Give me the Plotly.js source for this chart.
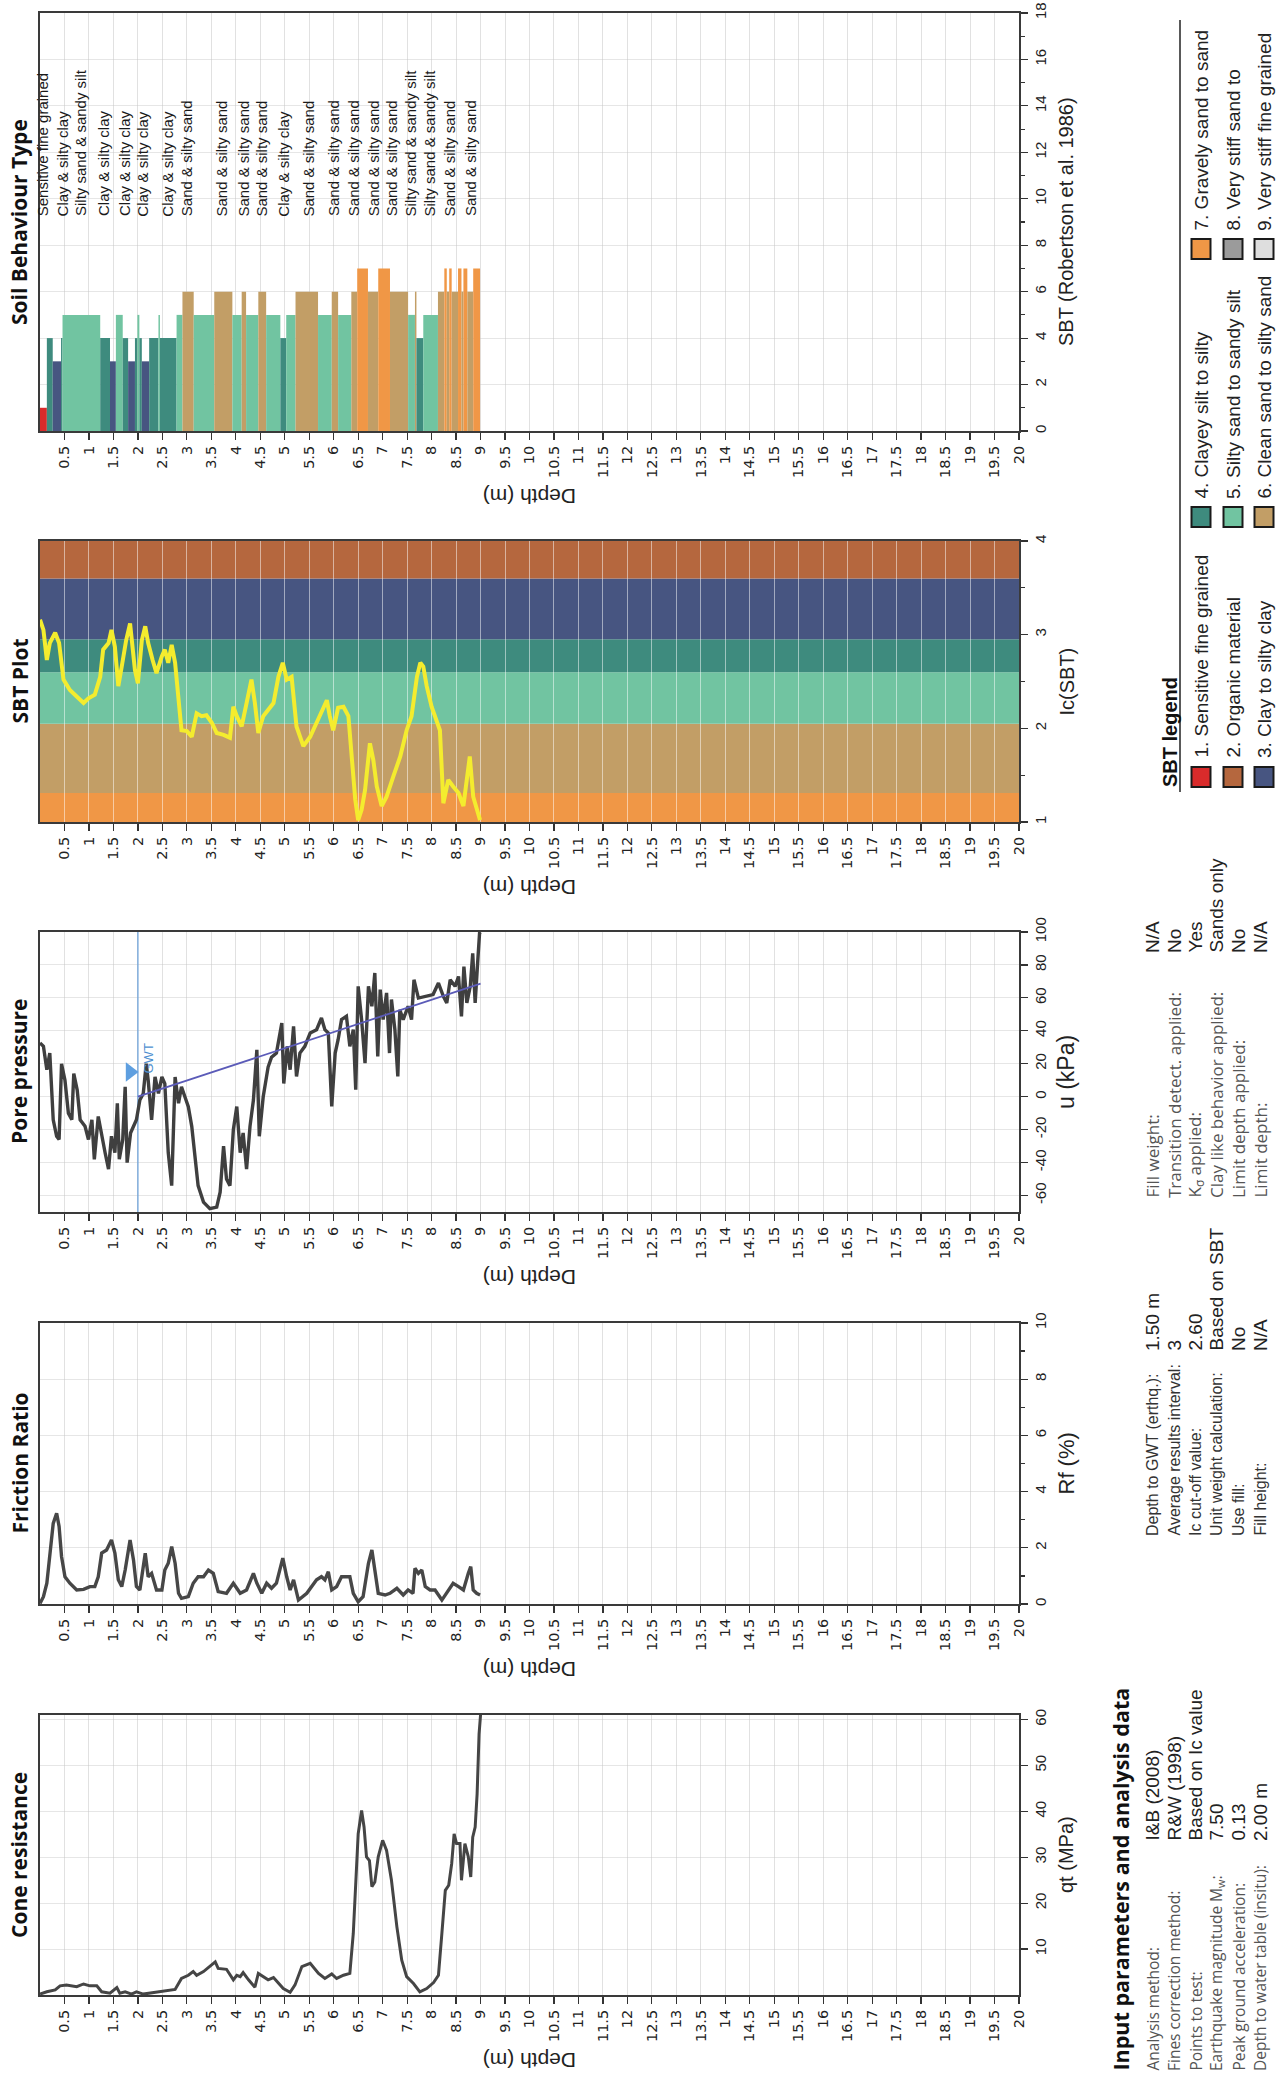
<!DOCTYPE html>
<html><head><meta charset="utf-8">
<script src="https://cdn.plot.ly/plotly-3.0.1.min.js"></script>
<style>html,body{margin:0;padding:0;background:#fff}#chart{width:1277px;height:2080px}</style>
</head><body><div id="chart"></div>
<script>
// ---------------- DATA ----------------
const depthTicks = [0.5,1,1.5,2,2.5,3,3.5,4,4.5,5,5.5,6,6.5,7,7.5,8,8.5,9,9.5,10,10.5,11,11.5,12,12.5,13,13.5,14,14.5,15,15.5,16,16.5,17,17.5,18,18.5,19,19.5,20];

// SBT zone bars (start depth of each layer, zone number), last layer ends at sbtEnd
const sbtStart = [0,0.14,0.26,0.43,0.46,1.23,1.43,1.55,1.69,1.80,1.94,1.99,2.03,2.08,2.23,2.42,2.45,2.79,2.91,3.14,3.56,3.93,4.12,4.21,4.46,4.62,4.91,5.03,5.22,5.68,5.96,6.09,6.36,6.48,6.70,6.91,7.15,7.52,7.66,7.69,7.83,8.13,8.26,8.31,8.36,8.41,8.54,8.61,8.65,8.73,8.85];
const sbtZone  = [1,4,3,4,5,4,3,5,4,3,4,5,4,3,4,5,4,5,6,5,6,5,6,5,6,5,4,5,6,5,6,5,6,7,6,7,6,5,6,4,5,6,7,6,7,6,7,6,7,6,7];
const sbtEnd = 8.99;

// SBT text labels
const sbtLabelDepth = [0.05,0.45,0.84,1.3,1.73,2.09,2.6,3.0,3.7,4.15,4.52,4.97,5.48,6.0,6.41,6.8,7.17,7.57,7.96,8.36,8.8];
const sbtLabelText = ["Sensitive fine grained","Clay & silty clay","Silty sand & sandy silt","Clay & silty clay","Clay & silty clay","Clay & silty clay","Clay & silty clay","Sand & silty sand","Sand & silty sand","Sand & silty sand","Sand & silty sand","Clay & silty clay","Sand & silty sand","Sand & silty sand","Sand & silty sand","Sand & silty sand","Sand & silty sand","Silty sand & sandy silt","Silty sand & sandy silt","Sand & silty sand","Sand & silty sand"];

// Ic zone boundaries and zones (bottom to top)
const icBounds = [1,1.31,2.05,2.6,2.95,3.6,4];
const icZones  = [7,6,5,4,3,2];

// Ic (SBT)
const icDepth = [0,0.07,0.14,0.2,0.31,0.39,0.48,0.61,0.75,0.89,0.99,1.12,1.23,1.29,1.40,1.46,1.53,1.60,1.67,1.76,1.84,1.89,1.94,2.00,2.08,2.15,2.21,2.30,2.38,2.49,2.55,2.62,2.69,2.76,2.83,2.89,3.00,3.10,3.20,3.30,3.40,3.51,3.61,3.75,3.88,3.95,4.02,4.12,4.22,4.32,4.39,4.46,4.56,4.66,4.77,4.87,4.96,5.04,5.14,5.24,5.38,5.52,5.65,5.75,5.86,5.92,5.99,6.09,6.20,6.30,6.37,6.44,6.50,6.57,6.64,6.74,6.81,6.88,6.98,7.08,7.22,7.36,7.49,7.59,7.70,7.77,7.83,7.90,8.00,8.10,8.17,8.24,8.34,8.44,8.55,8.65,8.72,8.78,8.85,8.92,8.99];
const icValue = [3.16,3.05,2.73,2.91,3.02,2.91,2.52,2.41,2.34,2.27,2.32,2.36,2.55,2.84,2.91,3.05,2.87,2.45,2.66,2.94,3.12,2.91,2.62,2.48,2.94,3.09,2.91,2.73,2.59,2.77,2.84,2.70,2.89,2.70,2.27,1.98,1.97,1.91,2.16,2.13,2.14,2.06,1.95,1.93,1.90,2.23,2.13,2.02,2.27,2.52,2.27,1.95,2.13,2.20,2.27,2.55,2.70,2.52,2.55,2.02,1.81,1.91,2.06,2.18,2.30,2.13,1.98,2.22,2.23,2.13,1.63,1.24,1.02,1.13,1.34,1.84,1.66,1.38,1.17,1.27,1.49,1.70,1.98,2.13,2.55,2.70,2.66,2.45,2.23,2.09,1.98,1.20,1.45,1.38,1.31,1.17,1.42,1.70,1.27,1.13,1.02];

// Pore pressure u (kPa)
const poreDepth = [0,0.07,0.14,0.2,0.27,0.34,0.39,0.44,0.51,0.58,0.65,0.69,0.76,0.82,0.92,0.99,1.06,1.11,1.19,1.26,1.33,1.40,1.46,1.53,1.58,1.62,1.69,1.74,1.78,1.85,1.91,1.97,2.04,2.11,2.17,2.21,2.28,2.35,2.42,2.49,2.55,2.62,2.69,2.76,2.83,2.89,2.96,3.03,3.10,3.17,3.23,3.34,3.47,3.61,3.68,3.75,3.81,3.88,3.95,4.02,4.09,4.15,4.22,4.29,4.36,4.43,4.48,4.56,4.66,4.73,4.83,4.94,4.98,5.05,5.11,5.18,5.24,5.31,5.41,5.52,5.65,5.75,5.82,5.89,5.96,6.03,6.09,6.16,6.26,6.33,6.40,6.45,6.50,6.57,6.64,6.71,6.78,6.84,6.90,6.95,7.01,7.08,7.14,7.18,7.25,7.31,7.35,7.42,7.52,7.59,7.64,7.73,7.90,8.03,8.14,8.24,8.31,8.38,8.48,8.55,8.61,8.66,8.72,8.79,8.84,8.89,8.94,8.98,9.00];
const poreValue = [32.6,30.6,16.4,26.5,-14,-24,-26,20,10,-10,-14,14,4,-14,-18,-26,-14,-38,-12,-24,-34,-44,-24,-34,-4,-38,-26,6,-40,-22,-18,-14,-2,2,20,10,-14,12,2,12,8,-34,-54,12,-4,6,0,-6,-18,-38,-54,-64,-68,-67,-58,-30,-50,-54,-20,-6,-34,-22,-44,-18,-2,28.5,-24,0,18,24,26.5,44.7,8,30.6,16.4,42.7,12.3,26.5,30.6,38.7,40.7,47.8,40.7,38.7,-5.9,26.5,34.6,46.8,48.8,30.6,40.7,4.3,67,46.8,20.4,67,54.9,75.1,24.5,65,46.8,63,26.5,59,40.7,12.3,52.8,46.8,54.9,46.8,71,59.9,61,62,69,61,56.9,71,67,73,48.8,79,57,67,87,57,81,99.4,100];
// hydrostatic u0 line and water table
const u0Depth = [2.0, 9.0];
const u0Value = [0, 68.7];
const gwtDepth = 2.0;
const gwtMarker = {depth: 1.84, u: 15};

// Friction ratio Rf (%)
const frDepth = [0,0.07,0.14,0.2,0.27,0.34,0.39,0.44,0.51,0.61,0.75,0.89,1.02,1.12,1.19,1.26,1.36,1.46,1.53,1.60,1.67,1.74,1.84,1.91,1.97,2.04,2.10,2.15,2.21,2.28,2.38,2.49,2.55,2.62,2.69,2.76,2.83,2.89,3.03,3.13,3.23,3.34,3.44,3.54,3.64,3.81,3.95,4.09,4.22,4.36,4.43,4.53,4.63,4.73,4.83,4.96,5.04,5.11,5.18,5.28,5.45,5.65,5.75,5.82,5.89,5.96,6.06,6.16,6.33,6.40,6.50,6.60,6.71,6.78,6.84,6.91,7.05,7.15,7.29,7.42,7.52,7.62,7.66,7.73,7.80,7.87,7.97,8.07,8.21,8.34,8.44,8.55,8.65,8.75,8.80,8.85,8.92,8.99];
const frValue = [0.02,0.26,0.74,1.69,2.87,3.23,2.76,1.69,0.97,0.74,0.5,0.52,0.62,0.62,0.97,1.81,1.92,2.28,1.81,0.86,0.62,1.21,2.28,1.57,0.62,0.5,1.21,1.81,0.97,1.09,0.5,0.5,1.21,1.45,2.04,1.45,0.38,0.2,0.26,0.74,0.97,0.97,1.21,1.09,0.44,0.38,0.74,0.38,0.5,1.09,0.74,0.38,0.74,0.56,0.74,1.63,0.97,0.5,0.86,0.14,0.38,0.86,0.97,0.86,1.15,0.5,0.62,0.97,0.97,0.38,0.08,0.26,1.45,1.92,1.21,0.38,0.32,0.38,0.56,0.32,0.5,0.38,1.27,1.09,1.21,0.62,0.5,0.5,0.14,0.5,0.74,0.62,0.5,1.09,1.33,0.5,0.38,0.32];

// Cone resistance qt (MPa)
const qtDepth = [0,0.14,0.31,0.41,0.54,0.75,0.89,1.02,1.16,1.26,1.43,1.57,1.63,1.74,1.87,1.97,2.11,2.32,2.52,2.66,2.76,2.89,3.03,3.13,3.20,3.34,3.47,3.58,3.64,3.81,3.95,4.02,4.09,4.15,4.26,4.39,4.46,4.56,4.66,4.77,4.87,4.97,5.11,5.21,5.35,5.52,5.69,5.82,5.96,6.06,6.20,6.33,6.40,6.47,6.50,6.57,6.62,6.67,6.73,6.78,6.84,6.91,7.00,7.08,7.18,7.29,7.39,7.49,7.63,7.76,7.90,8.04,8.14,8.21,8.28,8.35,8.41,8.46,8.51,8.58,8.61,8.68,8.75,8.80,8.84,8.89,8.93,8.97,9.00];
const qtValue = [0.2,0.7,1.1,2.0,2.2,1.8,2.4,2.0,2.0,0.7,0.4,1.6,0.4,0.7,0.2,0.7,0.2,0.5,0.7,0.9,1.2,3.6,4.3,5.1,4.3,5.1,6.2,7.2,5.8,5.6,3.3,4.3,4.0,4.9,3.3,1.7,4.7,4.0,3.3,3.8,2.5,1.4,0.6,2.2,6.2,6.9,4.7,3.6,4.6,3.6,4.3,4.7,13.4,29.3,35.1,40.2,36.6,30.1,29.3,23.6,24.6,30.1,33.7,31.5,25.0,14.9,7.6,4.0,2.5,0.7,1.4,2.7,4.3,13.4,22.8,23.9,28.6,35.1,33.0,33.0,25.0,33.0,30.1,25.7,34.4,36.6,43.8,56.9,61];

// Legend
const legendNames = ["1. Sensitive fine grained","2. Organic material","3. Clay to silty clay","4. Clayey silt to silty","5. Silty sand to sandy silt","6. Clean sand to silty sand","7. Gravely sand to sand","8. Very stiff sand to","9. Very stiff fine grained"];

// Input parameters
const paramLabels1 = ["Analysis method:","Fines correction method:","Points to test:","Earthquake magnitude M<sub>w</sub>:","Peak ground acceleration:","Depth to water table (insitu):"];
const paramValues1 = ["I&B (2008)","R&W (1998)","Based on Ic value","7.50","0.13","2.00 m"];
const paramLabels2 = ["Depth to GWT (erthq.):","Average results interval:","Ic cut-off value:","Unit weight calculation:","Use fill:","Fill height:"];
const paramValues2 = ["1.50 m","3","2.60","Based on SBT","No","N/A"];
const paramLabels3 = ["Fill weight:","Transition detect. applied:","K<sub>σ</sub> applied:","Clay like behavior applied:","Limit depth applied:","Limit depth:"];
const paramValues3 = ["N/A","No","Yes","Sands only","No","N/A"];

// ---------------- STYLE ----------------
const zoneColor = {1:'#D92B2B',2:'#B5673E',3:'#475581',4:'#3E8B7E',5:'#71C4A1',6:'#C29E66',7:'#F09746',8:'#9B9B9B',9:'#DEDEDE'};
const SANS = "'Liberation Sans',Arial,sans-serif";
const OPEN = "'Open Sans',Arial,sans-serif";
const W = 1277, H = 2080;
const PX = x => x / W, PY = y => 1 - y / H;
const panels = [[13,431],[541,822],[932,1212],[1323,1604],[1715,1995]];
const plotL = 40, plotR = 1019;
const panelTitles = ["Soil Behaviour Type","SBT Plot","Pore pressure","Friction Ratio","Cone resistance"];
const axisTitles = ["SBT (Robertson et al. 1986)","Ic(SBT)","u (kPa)","Rf (%)","qt (MPa)"];
const axisTitleSize = [20, 20, 23, 22, 20];

const layout = {
  width: W, height: H, margin: {l:0,r:0,t:0,b:0},
  paper_bgcolor: '#ffffff', plot_bgcolor: 'rgba(0,0,0,0)',
  showlegend: false, font: {family: SANS, color: '#222'},
  shapes: [], annotations: []
};

const yConf = [
  {range:[0,18], tickmode:'linear', tick0:0, dtick:2, minor:{dtick:1, ticks:'outside', ticklen:4, tickcolor:'#333', showgrid:false}},
  {range:[1,4], tickmode:'linear', tick0:1, dtick:1, showgrid:false, minor:{dtick:0.5, ticks:'outside', ticklen:4, tickcolor:'#333', showgrid:false}},
  {range:[-70,100], tickmode:'array', tickvals:[-60,-40,-20,0,20,40,60,80,100], ticktext:['-60','-40','-20','0','20','40','60','80','100']},
  {range:[0,10], tickmode:'linear', tick0:0, dtick:2, minor:{dtick:1, ticks:'outside', ticklen:4, tickcolor:'#333', showgrid:false}},
  {range:[0,61], tickmode:'array', tickvals:[10,20,30,40,50,60], ticktext:['10','20','30','40','50','60']}
];

panels.forEach((p, i) => {
  const n = i + 1;
  const xk = n === 1 ? 'xaxis' : 'xaxis' + n;
  const yk = n === 1 ? 'yaxis' : 'yaxis' + n;
  const dom = [PY(p[1]), PY(p[0])];
  layout[xk] = {
    domain: [PX(plotL), PX(plotR)], anchor: 'y' + (n===1?'':n), range: [0,20],
    tickmode: 'array', tickvals: depthTicks, ticktext: depthTicks.map(String),
    tickangle: -90, ticks: 'outside', ticklen: 7, tickcolor: '#333', tickwidth: 1.2,
    showline: true, linecolor: '#3a3a3a', linewidth: 2, mirror: true,
    showgrid: true, gridcolor: n === 2 ? 'rgba(255,255,255,0.5)' : 'rgba(200,200,200,0.55)', gridwidth: 1, zeroline: false,
    tickfont: {family: "'DejaVu Sans',sans-serif", size: 14.5, color: '#222'}, fixedrange: true
  };
  layout[yk] = Object.assign({
    domain: dom, anchor: 'x' + (n===1?'':n), side: 'right', tickangle: -90,
    ticks: 'outside', ticklen: 7, tickcolor: '#333', tickwidth: 1.2,
    showline: true, linecolor: '#3a3a3a', linewidth: 2, mirror: true,
    showgrid: true, gridcolor: 'rgba(200,200,200,0.45)', gridwidth: 1, zeroline: false,
    tickfont: {family: SANS, size: 15, color: '#222'}, fixedrange: true
  }, yConf[i]);

  layout.annotations.push({xref:'paper', yref:'paper', x: PX(19), y: PY((p[0]+p[1])/2),
    text: '<b>' + panelTitles[i] + '</b>', textangle: -90, showarrow: false,
    xanchor:'center', yanchor:'middle', font:{family: OPEN, size:21, color:'#111'}});
  layout.annotations.push({xref:'paper', yref:'paper', x: PX(1066), y: PY((p[0]+p[1])/2),
    text: axisTitles[i], textangle: -90, showarrow: false,
    xanchor:'center', yanchor:'middle', font:{family: SANS, size: axisTitleSize[i], color:'#222'}});
  layout.annotations.push({xref:'paper', yref:'paper', x: PX((plotL+plotR)/2), y: PY(p[1] + 66),
    text: 'Depth (m)', textangle: 180, showarrow: false,
    xanchor:'center', yanchor:'middle', font:{family: SANS, size:21, color:'#222'}});
});

// ---------------- TRACES ----------------
const traces = [];

// Panel 1: SBT bars
const sbtWidth = sbtStart.map((s, k) => (k < sbtStart.length - 1 ? sbtStart[k+1] : sbtEnd) - s);
traces.push({type:'bar', x: sbtStart, y: sbtZone, width: sbtWidth, offset: 0,
  marker: {color: sbtZone.map(z => zoneColor[z]), line: {width: 0}},
  xaxis:'x', yaxis:'y', hoverinfo:'skip'});

sbtLabelDepth.forEach((d, k) => {
  layout.annotations.push({xref:'x', yref:'y', x: d, y: 9.2, text: sbtLabelText[k],
    textangle: -90, showarrow: false, xanchor:'center', yanchor:'bottom',
    font:{family: SANS, size:15, color:'#1a1a1a'}, borderpad: 0});
});

// Panel 2: bands + Ic line
icZones.forEach((z, k) => {
  layout.shapes.push({type:'rect', xref:'x2', yref:'y2', x0:0, x1:20, y0: icBounds[k], y1: icBounds[k+1],
    fillcolor: zoneColor[z], line:{width:0}, layer:'below'});
});
traces.push({type:'scatter', mode:'lines', x: icDepth, y: icValue, xaxis:'x2', yaxis:'y2',
  line:{color:'#F4EC2E', width:4}, hoverinfo:'skip'});

// Panel 3: pore pressure
traces.push({type:'scatter', mode:'lines', x:[gwtDepth, gwtDepth], y:[-70,100], xaxis:'x3', yaxis:'y3',
  line:{color:'#6FA3DA', width:1.3}, hoverinfo:'skip'});
traces.push({type:'scatter', mode:'lines', x: poreDepth, y: poreValue, xaxis:'x3', yaxis:'y3',
  line:{color:'#3f3f3f', width:3.4}, hoverinfo:'skip'});
traces.push({type:'scatter', mode:'lines', x: u0Depth, y: u0Value, xaxis:'x3', yaxis:'y3',
  line:{color:'#5B5BB8', width:1.8}, hoverinfo:'skip'});
traces.push({type:'scatter', mode:'markers', x:[gwtMarker.depth], y:[gwtMarker.u], xaxis:'x3', yaxis:'y3',
  marker:{symbol:'triangle-right', size:17, color:'#5E9FE0'}, hoverinfo:'skip'});
layout.annotations.push({xref:'x3', yref:'y3', x: gwtDepth + 0.22, y: gwtMarker.u + 8, text:'GWT',
  textangle:-90, showarrow:false, font:{family: SANS, size:13, color:'#4E8FD0'}});

// Panel 4: friction ratio
traces.push({type:'scatter', mode:'lines', x: frDepth, y: frValue, xaxis:'x4', yaxis:'y4',
  line:{color:'#474747', width:3.4}, hoverinfo:'skip'});

// Panel 5: cone resistance
traces.push({type:'scatter', mode:'lines', x: qtDepth, y: qtValue, xaxis:'x5', yaxis:'y5',
  line:{color:'#454545', width:3}, hoverinfo:'skip'});

// ---------------- LEGEND (rotated) ----------------
layout.annotations.push({xref:'paper', yref:'paper', x: PX(1170), y: PY(789), text:'<b>SBT legend</b>',
  textangle:-90, showarrow:false, xanchor:'center', yanchor:'bottom',
  font:{family: SANS, size:20, color:'#111'}});
layout.shapes.push({type:'line', xref:'paper', yref:'paper', x0: PX(1180), x1: PX(1180), y0: PY(792), y1: PY(20),
  line:{color:'#222', width:1.5}});
const legRowX = [1201, 1233, 1264];
const legSwatchY = [777, 517, 249];
const legTextY = [760, 501, 233];
legendNames.forEach((name, k) => {
  const col = Math.floor(k / 3), row = k % 3;
  const cx = legRowX[row], cy = legSwatchY[col];
  layout.shapes.push({type:'rect', xref:'paper', yref:'paper', x0: PX(cx-9.5), x1: PX(cx+9.5), y0: PY(cy+10), y1: PY(cy-10),
    fillcolor: zoneColor[k+1], line:{color:'#1a1a1a', width:2}});
  layout.annotations.push({xref:'paper', yref:'paper', x: PX(cx), y: PY(legTextY[col]), text: name,
    textangle:-90, showarrow:false, xanchor:'center', yanchor:'bottom',
    font:{family: SANS, size:19, color:'#222'}});
});

// ---------------- INPUT PARAMETERS (rotated) ----------------
layout.annotations.push({xref:'paper', yref:'paper', x: PX(1120), y: PY(2073), text:'<b>Input parameters and analysis data</b>',
  textangle:-90, showarrow:false, xanchor:'center', yanchor:'bottom',
  font:{family: OPEN, size:21.5, color:'#111'}});
const paramRowX = [1152, 1174, 1195, 1216, 1238, 1260];
const paramCols = [
  {labels: paramLabels1, values: paramValues1, ly: 2073, vy: 1843, lfont: OPEN, lsize: 15.5, lcolor:'#555'},
  {labels: paramLabels2, values: paramValues2, ly: 1538, vy: 1353, lfont: SANS, lsize: 16, lcolor:'#333'},
  {labels: paramLabels3, values: paramValues3, ly: 1200, vy: 955, lfont: OPEN, lsize: 17, lcolor:'#555'}
];
paramCols.forEach(c => {
  c.labels.forEach((t, k) => {
    layout.annotations.push({xref:'paper', yref:'paper', x: PX(paramRowX[k]), y: PY(c.ly), text: t,
      textangle:-90, showarrow:false, xanchor:'center', yanchor:'bottom',
      font:{family: c.lfont, size: c.lsize, color: c.lcolor}});
    layout.annotations.push({xref:'paper', yref:'paper', x: PX(paramRowX[k]), y: PY(c.vy), text: c.values[k],
      textangle:-90, showarrow:false, xanchor:'center', yanchor:'bottom',
      font:{family: SANS, size:19, color:'#222'}});
  });
});

Plotly.newPlot('chart', traces, layout, {staticPlot:true, displayModeBar:false});
</script>
</body></html>
